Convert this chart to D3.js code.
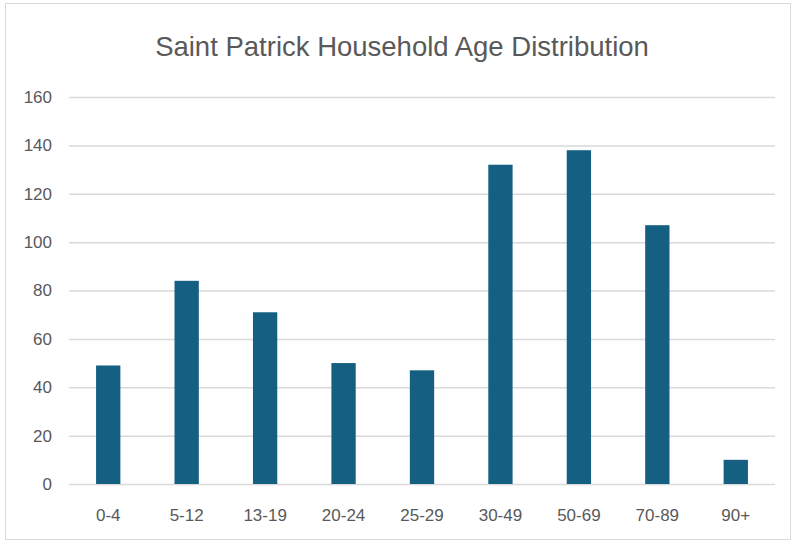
<!DOCTYPE html>
<html>
<head>
<meta charset="utf-8">
<script src="https://cdn.jsdelivr.net/npm/d3@7"></script>
<style>
  body { margin: 0; background: #fff; }
  svg { display: block; font-family: "Liberation Sans", Arial, sans-serif; }
</style>
</head>
<body>
<div id="chart"></div>
<script>
// chart data
var categories = ['0-4', '5-12', '13-19', '20-24', '25-29', '30-49', '50-69', '70-89', '90+'];
var counts = [49, 84, 71, 50, 47, 132, 138, 107, 10];
var yTicks = [0, 20, 40, 60, 80, 100, 120, 140, 160];
var titleText = 'Saint Patrick Household Age Distribution';

var width = 793, height = 542;
var margin = {top: 97, right: 18, bottom: 58, left: 69};
var barColor = '#156082';
var gridColor = '#d9d9d9';
var textColor = '#595959';

var svg = d3.select('#chart').append('svg')
   .attr('width', width)
   .attr('height', height);

// outer frame
svg.append('rect')
   .attr('x', 5.5).attr('y', 3.5)
   .attr('width', 785).attr('height', 536)
   .attr('fill', '#fff')
   .attr('stroke', gridColor)
   .attr('stroke-width', 1);

svg.append('text')
   .attr('x', 402).attr('y', 56)
   .attr('text-anchor', 'middle')
   .attr('font-size', '27.5px')
   .attr('fill', textColor)
   .text(titleText);

var x = d3.scaleBand()
   .domain(categories)
   .range([margin.left, width - margin.right])
   .paddingInner(0.69)
   .paddingOuter(0.345);

var y = d3.scaleLinear()
   .domain([0, 160])
   .range([height - margin.bottom, margin.top]);

// gridlines
var yAxis = d3.axisLeft(y)
   .tickValues(yTicks)
   .tickSize(-(width - margin.right - margin.left))
   .tickPadding(17);

var gy = svg.append('g')
   .attr('transform', 'translate(' + margin.left + ',0)')
   .call(yAxis);
gy.select('.domain').remove();
gy.selectAll('.tick line')
   .attr('stroke', gridColor)
   .attr('stroke-width', 1.5);
gy.selectAll('.tick text')
   .attr('fill', textColor)
   .attr('font-size', '17px')
   .attr('font-family', '"Liberation Sans", Arial, sans-serif');

// bars
svg.append('g').selectAll('rect')
   .data(counts)
   .enter()
   .append('rect')
   .attr('x', function (d, i) { return x(categories[i]); })
   .attr('y', function (d) { return y(d); })
   .attr('width', x.bandwidth())
   .attr('height', function (d) { return y(0) - y(d); })
   .attr('fill', barColor);

// x axis labels
var xAxis = d3.axisBottom(x).tickSize(0).tickPadding(25);
var gx = svg.append('g')
   .attr('transform', 'translate(0,' + (height - margin.bottom) + ')')
   .call(xAxis);
gx.select('.domain').remove();
gx.selectAll('.tick text')
   .attr('fill', textColor)
   .attr('font-size', '17px')
   .attr('font-family', '"Liberation Sans", Arial, sans-serif');
</script>
</body>
</html>
